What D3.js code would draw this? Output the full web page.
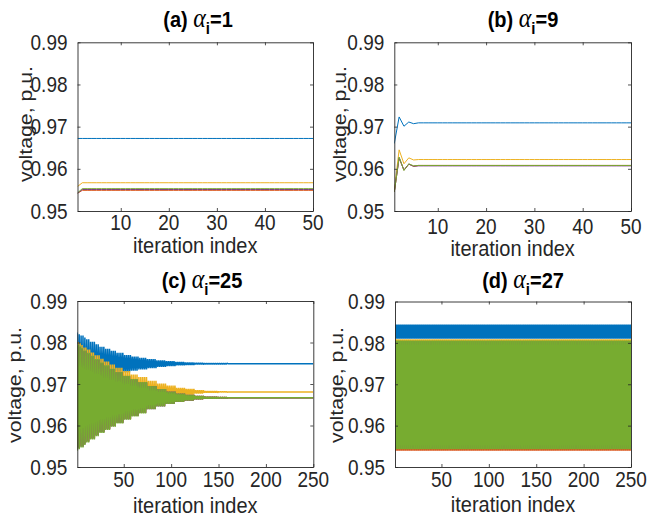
<!DOCTYPE html>
<html>
<head>
<meta charset="utf-8">
<script src="https://cdn.jsdelivr.net/npm/d3@7"></script>
<style>
  body { margin: 0; background: #fff; }
  text { font-family: "Liberation Sans", Arial, Helvetica, sans-serif; fill: #262626; }
</style>
</head>
<body>
<svg id="chart" width="655" height="518"></svg>
<script>
// ---- data ----
const lineColors = ["#0072BD", "#D95319", "#EDB120", "#7E2F8E", "#77AC30"];
const panelLetters = ["a", "b", "c", "d"];
const alphaValues = ["1", "9", "25", "27"];
const iterCounts = [50, 50, 250, 250];
const yTicks = [0.95, 0.96, 0.97, 0.98, 0.99];
const xTicksShort = [10, 20, 30, 40, 50];
const xTicksLong = [50, 100, 150, 200, 250];

// (a) alpha=1 : first iterations, then the settled value
const aTransient = [[0.9672], [0.9542], [0.9558], [0.9542], [0.9543]];
const aSteady = [0.9672, 0.9549, 0.9567, 0.9551, 0.9553];

// (b) alpha=9 : damped start, then settled
const bTransient = [
  [0.9660, 0.9723, 0.9701, 0.9711, 0.9707, 0.9709],
  [0.9545, 0.9626, 0.9597, 0.9611, 0.9606, 0.9608],
  [0.9550, 0.9645, 0.9612, 0.9626, 0.9621, 0.9622],
  [0.9545, 0.9626, 0.9597, 0.9611, 0.9606, 0.9607],
  [0.9545, 0.9628, 0.9596, 0.9612, 0.9607, 0.9608]
];
const bSteady = [0.9709, 0.9608, 0.9622, 0.9607, 0.9608];

// (c) alpha=25 : period-2 swing, half-width of the band read at these iterations
const cCheckIter = [1, 3, 5, 8, 11, 15, 20, 25, 30, 36, 42, 50, 58, 66, 75, 85, 95, 105, 115, 125, 135, 150, 160];
const cAmpBlue   = [0.0075, 0.0071, 0.0068, 0.0063, 0.0059, 0.0053, 0.0047, 0.0041, 0.0036, 0.0031, 0.0026, 0.0021, 0.0017, 0.0014, 0.0011, 0.0008, 0.0006, 0.0004, 0.0003, 0.0002, 0.0001, 0.0001, 0];
const cAmpOrange = [0.0124, 0.0120, 0.0116, 0.0110, 0.0105, 0.0098, 0.0090, 0.0082, 0.0075, 0.0068, 0.0060, 0.0051, 0.0043, 0.0036, 0.0027, 0.0020, 0.0014, 0.0010, 0.0007, 0.0004, 0.0002, 0.0001, 0];
const cAmpYellow = [0.0120, 0.0117, 0.0113, 0.0107, 0.0102, 0.0095, 0.0088, 0.0080, 0.0073, 0.0066, 0.0058, 0.0050, 0.0042, 0.0036, 0.0027, 0.0020, 0.0015, 0.0010, 0.0007, 0.0004, 0.0002, 0.0001, 0];
const cAmpPurple = [0.0126, 0.0122, 0.0118, 0.0112, 0.0106, 0.0099, 0.0091, 0.0083, 0.0076, 0.0069, 0.0061, 0.0052, 0.0044, 0.0037, 0.0028, 0.0021, 0.0015, 0.0010, 0.0007, 0.0004, 0.0002, 0.0001, 0];
const cAmpGreen  = [0.0128, 0.0124, 0.0120, 0.0114, 0.0108, 0.0101, 0.0093, 0.0085, 0.0078, 0.0070, 0.0062, 0.0053, 0.0045, 0.0038, 0.0028, 0.0021, 0.0015, 0.0010, 0.0007, 0.0004, 0.0002, 0.0001, 0];
const cSteady = [0.9749, 0.9667, 0.9681, 0.9667, 0.9667];
const cFirstSign = [1, -1, -1, -1, -1];

// (d) alpha=27 : sustained period-2 swing between these levels
const dHigh = [0.9844, 0.9805, 0.9809, 0.9804, 0.9806];
const dLow  = [0.9810, 0.9539, 0.9548, 0.9545, 0.9543];

// ---- build series ----
function settle(transient, steady, n) {
  return d3.range(1, n + 1).map(i => i <= transient.length ? transient[i - 1] : steady);
}
function swing(center, amps, sign, n) {
  return d3.range(1, n + 1).map(i => {
    const k = Math.max(0, d3.bisectRight(cCheckIter, i) - 1);
    return center + (i % 2 ? sign : -sign) * amps[k];
  });
}
function alternate(hi, lo, n) {
  return d3.range(1, n + 1).map(i => i % 2 ? hi : lo);
}

const cAmps = [cAmpBlue, cAmpOrange, cAmpYellow, cAmpPurple, cAmpGreen];
const panelSeries = [
  aSteady.map((s, j) => settle(aTransient[j], s, iterCounts[0])),
  bSteady.map((s, j) => settle(bTransient[j], s, iterCounts[1])),
  cSteady.map((s, j) => swing(s, cAmps[j], cFirstSign[j], iterCounts[2])),
  dHigh.map((h, j) => alternate(h, dLow[j], iterCounts[3]))
];
const panelXTicks = [xTicksShort, xTicksShort, xTicksLong, xTicksLong];

// ---- layout ----
const layout = [
  { left: 77.5, top: 42.3, right: 313, bottom: 211, titleX: 198, titleY: 27, yLabX: 25, yLabY: 124, tickY: 230, labY: 253, lw: 1 },
  { left: 394.3, top: 42.3, right: 631, bottom: 211, titleX: 523, titleY: 27, yLabX: 339, yLabY: 124, tickY: 234, labY: 256, lw: 1 },
  { left: 77.3, top: 301, right: 313.3, bottom: 467, titleX: 202, titleY: 288, yLabX: 14.5, yLabY: 385, tickY: 487, labY: 513, lw: 1.5 },
  { left: 395, top: 301.5, right: 631, bottom: 467, titleX: 523, titleY: 288, yLabX: 336.5, yLabY: 385, tickY: 487, labY: 512, lw: 1.8 }
];
const SY = 1.12;        // text in the picture is a bit taller than wide
const axisColor = "#262626";

const svg = d3.select("#chart");

function stretchedText(g, x, y, rotate) {
  return g.append("text")
    .attr("transform", `translate(${x},${y}) scale(1,${SY})` + (rotate ? " rotate(-90)" : ""));
}

layout.forEach((L, p) => {
  const n = iterCounts[p];
  const x = d3.scaleLinear().domain([1, n]).range([L.left, L.right]);
  const y = d3.scaleLinear().domain([0.95, 0.99]).range([L.bottom, L.top]);
  const g = svg.append("g");

  // clip
  const clipId = "clip-" + panelLetters[p];
  svg.append("clipPath").attr("id", clipId)
    .append("rect")
    .attr("x", L.left).attr("y", L.top)
    .attr("width", L.right - L.left).attr("height", L.bottom - L.top);

  const line = d3.line().x((d, i) => x(i + 1)).y(d => y(d));
  g.append("g").attr("clip-path", `url(#${clipId})`)
    .selectAll("path")
    .data(panelSeries[p])
    .join("path")
    .attr("d", line)
    .attr("fill", "none")
    .attr("stroke", (d, j) => lineColors[j])
    .attr("stroke-width", L.lw)
    .attr("stroke-linejoin", "bevel");

  // axes with inward ticks on all four sides
  const xt = panelXTicks[p];
  const styleAxis = sel => {
    sel.select(".domain").attr("stroke", axisColor).attr("stroke-width", 0.9);
    sel.selectAll(".tick line").attr("stroke", axisColor).attr("stroke-width", 0.8);
    sel.selectAll(".tick text").remove();
  };
  g.append("g").attr("transform", `translate(0,${L.bottom})`)
    .call(d3.axisBottom(x).tickValues(xt).tickSizeInner(-3).tickSizeOuter(0)).call(styleAxis);
  g.append("g").attr("transform", `translate(0,${L.top})`)
    .call(d3.axisTop(x).tickValues(xt).tickSizeInner(-3).tickSizeOuter(0)).call(styleAxis);
  g.append("g").attr("transform", `translate(${L.left},0)`)
    .call(d3.axisLeft(y).tickValues(yTicks).tickSizeInner(-3).tickSizeOuter(0)).call(styleAxis);
  g.append("g").attr("transform", `translate(${L.right},0)`)
    .call(d3.axisRight(y).tickValues(yTicks).tickSizeInner(-3).tickSizeOuter(0)).call(styleAxis);

  // tick labels
  yTicks.forEach(t => {
    stretchedText(g, L.left - 10, y(t), false)
      .attr("text-anchor", "end").attr("dy", "0.36em")
      .style("font-size", "19px")
      .text(d3.format(".2f")(t));
  });
  xt.forEach(t => {
    stretchedText(g, x(t), L.tickY, false)
      .attr("text-anchor", "middle")
      .style("font-size", "19px")
      .text(t);
  });

  // axis labels
  stretchedText(g, (L.left + L.right) / 2, L.labY, false)
    .attr("text-anchor", "middle").style("font-size", "20px")
    .text("iteration index");
  stretchedText(g, L.yLabX, L.yLabY, true)
    .attr("text-anchor", "middle").attr("dy", "0.35em").style("font-size", "19px")
    .text("voltage, p.u.");

  // title
  const title = stretchedText(g, L.titleX, L.titleY, false)
    .attr("text-anchor", "middle").style("font-size", "20px").style("font-weight", "bold")
    .style("fill", "#000");
  title.append("tspan").text(`(${panelLetters[p]}) `);
  title.append("tspan")
    .style("font-family", "'Liberation Serif', 'Times New Roman', serif")
    .style("font-style", "italic").style("font-weight", "normal").style("font-size", "24px")
    .text("α");
  title.append("tspan").attr("dy", 6).style("font-size", "15px").text("i");
  title.append("tspan").attr("dy", -6).text("=" + alphaValues[p]);
});
</script>
</body>
</html>
